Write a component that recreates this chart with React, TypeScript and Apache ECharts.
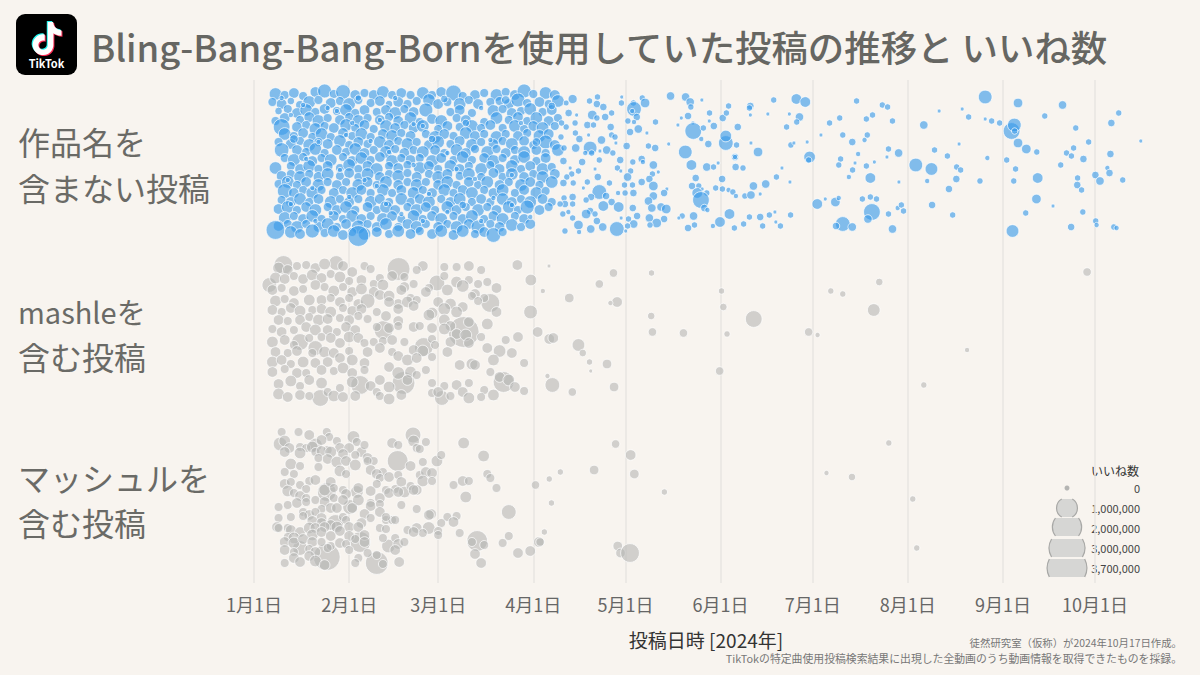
import React, { useEffect, useRef } from "react";
import * as echarts from "echarts";

const TITLE = "Bling-Bang-Bang-Bornを使用していた投稿の推移と いいね数";
const ROW_LABELS = [["作品名を", "含まない投稿"], ["mashleを", "含む投稿"], ["マッシュルを", "含む投稿"]];
const MONTH_TICKS = [0, 31, 60, 91, 121, 152, 182, 213, 244, 274];
const MONTH_LABELS = ["1月1日", "2月1日", "3月1日", "4月1日", "5月1日", "6月1日", "7月1日", "8月1日", "9月1日", "10月1日"];
const LEGEND_LIKES = [0, 1000, 2000, 3000, 3700];
const LEGEND_LABELS = ["0", "1,000,000", "2,000,000", "3,000,000", "3,700,000"];

// flat triples: day of year, swarm position, likes (thousands)
const blueDense = [
7,14,300,10,15,130,13,13,200,16,16,130,20,12,200,23,11,380,26,14,130,29,12,430,33,15,200,36,13,130,39,15,200,42,12,300,45,15,130,48,13,200,51,15,130,55,13,300,58,15,130,61,12,200,65,13,500,68,16,130,72,15,200,75,13,130,79,15,300,82,12,130,85,15,200,88,11,380,91,14,130,95,13,300,98,15,200,
6,22,130,9,24,200,12,21,79,15,25,130,18,22,300,21,20,130,25,23,200,28,21,130,31,24,300,34,20,130,38,23,130,41,21,200,44,24,79,47,22,200,50,24,130,53,21,130,57,20,300,60,24,200,63,22,130,67,24,300,70,20,130,73,24,200,77,22,130,80,21,130,83,24,200,86,20,380,89,23,130,93,22,200,96,24,130,99,21,300,
8,31,79,11,29,130,14,33,200,17,30,300,20,32,130,23,29,200,27,31,130,30,30,300,33,33,130,36,30,200,40,32,130,43,30,200,46,33,300,49,29,130,52,32,200,56,30,380,64,32,130,67,30,200,71,33,130,78,31,300,81,29,130,84,33,200,87,31,130,90,29,300,94,32,130,97,30,200,
7,41,130,10,38,200,15,40,130,18,37,200,21,41,300,24,38,130,28,40,200,31,37,130,34,41,300,37,38,130,41,40,200,44,37,130,47,41,200,51,38,300,54,42,130,58,39,200,61,41,300,66,38,130,69,40,200,75,42,130,79,38,300,83,40,130,86,37,200,89,41,130,92,38,300,96,41,200,99,38,130,
9,47,571,14,47,200,17,45,130,20,49,300,23,46,130,26,48,200,30,45,300,33,48,130,36,45,200,39,49,130,43,46,300,46,48,200,49,45,130,52,48,200,55,46,300,60,49,130,63,46,200,67,47,130,71,46,300,74,48,130,77,45,200,81,48,130,85,46,300,88,49,130,91,46,200,94,48,300,98,46,130,
10,54,300,13,56,130,16,53,200,19,57,130,22,54,300,25,57,130,29,53,200,32,56,130,35,54,300,38,57,130,42,54,200,45,56,300,48,53,130,51,56,200,56,54,130,59,57,300,62,54,200,65,56,130,69,53,300,72,56,200,75,54,130,79,57,300,82,54,130,86,56,200,89,53,130,93,56,300,96,54,200,
8,62,130,12,64,200,15,61,130,18,65,300,21,62,130,24,64,200,28,61,300,31,65,130,34,62,200,37,64,130,41,62,300,44,65,200,47,61,130,50,64,300,53,62,130,57,65,200,60,62,300,64,64,130,67,61,200,71,65,300,74,62,130,78,64,200,81,61,130,84,64,300,88,61,200,91,65,130,95,62,380,98,65,200,
9,70,420,14,70,200,17,72,130,20,69,300,23,73,130,27,70,200,30,72,130,33,69,300,36,73,200,39,70,130,43,72,300,46,69,130,49,73,200,52,70,130,55,72,300,59,70,200,62,73,130,66,70,300,69,73,200,72,69,130,76,72,300,79,69,130,82,73,200,85,70,130,88,72,300,92,70,200,95,73,130,99,70,300,
10,78,130,13,80,300,16,77,130,19,81,200,22,78,130,25,80,300,29,77,130,32,81,200,35,78,300,38,80,130,41,77,200,45,81,300,48,78,130,51,80,200,54,78,130,58,81,300,61,78,200,65,80,130,68,77,300,71,80,130,75,78,200,78,81,300,81,78,130,85,80,200,88,77,300,92,81,130,95,78,200,
7,88,300,12,86,130,15,89,200,18,86,300,21,89,130,24,86,200,28,88,130,31,85,300,34,89,130,37,86,200,40,89,300,44,86,130,47,88,200,50,85,130,54,88,300,57,86,200,60,89,130,64,86,300,67,89,200,70,86,130,74,89,300,77,85,130,80,89,200,84,86,300,87,89,130,90,86,200,94,89,300,97,87,130,
9,96,200,12,94,130,15,97,300,18,94,130,21,97,200,24,94,300,28,96,130,31,93,200,34,97,130,37,94,300,41,97,200,44,94,130,47,96,300,50,93,130,53,97,200,57,94,130,60,97,300,63,94,200,67,96,130,70,94,300,74,97,130,78,93,200,81,97,130,84,94,300,88,97,200,91,94,130,94,97,300,98,94,200,
8,104,130,11,102,300,14,105,130,17,102,200,21,105,300,24,102,130,27,105,200,30,102,130,34,105,300,37,102,200,40,105,130,43,102,300,47,105,200,50,102,130,53,105,300,56,102,130,60,105,200,63,102,300,66,105,130,70,102,200,73,105,130,76,102,300,80,105,200,83,102,130,87,105,300,90,102,200,93,105,130,97,102,300,
10,111,430,13,113,200,16,110,130,19,113,300,22,110,130,26,113,200,29,110,130,32,113,300,35,110,200,38,113,130,42,110,300,45,113,130,48,110,200,52,113,300,55,110,130,58,113,200,62,110,300,65,113,130,68,110,200,71,113,300,75,110,130,78,113,200,81,110,300,85,113,130,88,110,200,92,113,300,95,111,130,
9,120,130,12,122,200,15,119,300,18,122,130,21,119,200,25,122,300,28,119,130,31,122,200,34,119,130,38,122,300,41,119,200,44,122,130,48,119,300,51,122,130,54,119,200,57,122,300,61,119,130,64,122,200,67,119,300,71,122,130,74,119,200,77,122,130,81,119,300,84,122,200,87,119,130,90,122,300,94,119,200,97,122,130,
8,129,200,11,127,300,14,130,130,17,127,200,20,130,300,24,127,130,27,130,200,30,127,300,33,130,130,37,127,200,40,130,130,43,127,300,46,130,200,50,127,130,53,130,300,56,127,200,59,130,130,63,127,300,66,130,200,69,127,130,73,130,300,76,127,130,79,130,200,83,127,300,86,130,130,89,127,380,93,130,200,96,127,130,
10,138,300,13,136,130,16,139,200,19,136,300,22,139,130,26,136,200,29,139,130,32,136,300,35,139,200,38,136,130,42,139,300,45,136,200,48,139,130,52,136,300,55,139,130,58,136,200,61,139,300,65,136,130,68,139,200,71,136,300,75,139,130,78,136,200,81,139,300,85,136,130,88,139,200,
8,146,200,11,144,130,14,147,300,17,144,130,21,147,200,24,144,300,27,147,130,30,144,200,34,147,380,37,144,130,40,147,200,43,144,300,47,147,130,50,144,200,53,147,300,56,144,130,60,147,200,63,144,130,66,147,300,70,144,200,73,147,380,77,144,130,80,147,200,84,145,300,87,147,130,90,144,200,
7,150,733,12,152,300,15,154,200,19,151,380,23,153,130,26,151,300,29,155,200,32,152,130,36,154,300,34,156,914,40,152,200,44,154,130,47,151,300,51,154,200,54,151,130,58,154,200,61,151,300,65,155,200,68,151,300,72,154,130,75,152,200,78,155,430,81,152,130,
9,18,21,34,18,48,46,18,21,62,19,79,82,20,114,24,28,21,74,28,21,97,26,79,12,35,21,32,43,21,52,44,21,69,43,79,87,43,21,13,59,114,38,61,21,58,59,79,77,60,21,92,62,114,11,100,21,36,100,21,72,99,21,12,124,21,43,124,21,68,125,79,84,125,21,20,141,21,55,141,21,74,141,21,
16,25,21,27,31,21,41,40,21,55,46,21,30,55,21,21,62,21,44,72,21,63,73,21,17,79,21,52,85,21,28,90,21,66,89,21,84,95,21,40,106,21,19,108,21,57,114,21,31,117,21,78,118,21,48,134,21,25,133,21,63,132,21,90,137,21,
];
const blueSparse = [
103.8,19,135,101.7,23,35,109.3,21,48,111.9,17,48,111.7,24,79,113.8,27,79,119.8,17,0,119.7,23,48,123.6,23,48,126.5,18,48,127.4,23,155,123.8,29,429,123.2,31,21,102.5,33,79,105.1,35,0,110.2,35,155,111.7,38,48,114.4,37,79,116.5,33,48,124.7,37,79,121.8,41,48,123.8,42,21,130.8,42,48,125.2,49,114,122.5,52,79,128,53,0,116.2,47,79,108.6,45,79,110.6,45,48,104.6,43,48,101.7,47,48,100.2,43,48,104.7,53,48,109,55,0,116.5,55,48,117.6,57,48,106,59,79,100,57,48,113.2,60,114,117.9,63,0,121.4,66,79,109.5,68,364,104.8,68,114,110,73,48,107.9,73,21,114.9,70,114,116.9,73,48,112.7,71,0,101,68,48,119.3,80,79,112.5,80,48,106.9,82,79,100.8,81,79,123.4,82,48,126.3,79,79,126.7,82,21,130.1,85,114,128.5,66,48,130.7,68,79,135.1,64,0,111.1,89,0,103,88,0,105.7,91,48,118.4,88,48,119.5,91,0,122.7,91,48,131.7,92,0,129.8,94,48,112,97,79,103.5,94,48,101.9,97,48,121.7,97,114,128.8,99,79,126.3,102,79,108.6,102,48,100.8,103,79,104,103,48,115.8,103,48,107.3,108,0,120.7,105,48,123.3,105,48,130.1,106,155,134.5,109,0,133.6,113,79,112.5,112,429,120.9,113,48,123.6,113,79,118.6,113,21,114.7,116,79,109.8,117,79,103.8,117,79,130.1,116,114,116.5,122,79,108.2,120,48,128.5,121,114,101,118,48,101.3,124,79,99.7,124,48,103.8,124,48,113.8,126,200,118.8,127,200,129.6,128,114,132.6,127,114,134.3,129,155,123.4,128,79,109.5,131,79,111.1,134,48,108.2,134,155,102.4,132,21,100.6,134,48,119.6,138,0,124.8,136,79,122,139,48,128.8,138,114,133.6,139,79,103.8,138,48,111.7,141,79,123.7,144,114,131.2,143,155,129,145,48,105.7,145,155,113.6,147,114,121.7,146,48,109.7,149,114,118.2,149,429,101.3,151,48,105.9,152,21,121.1,151,0,
135.7,16,114,140.6,17,114,142.1,22,114,142.3,27,48,145.9,20,0,141.4,36,79,139.2,38,0,138.1,45,0,143,43,0,143.1,51,571,146.4,48,48,148.4,33,48,148.3,41,0,149.8,46,79,152.7,38,79,153.9,33,48,154.6,26,48,157.6,47,79,161.7,26,79,161.4,28,48,161.7,35,0,169.3,20,48,167.4,34,0,176.7,19,200,179.6,22,200,174.4,34,0,177.7,37,114,176.8,42,48,173.5,47,48,187.5,43,48,190.8,38,48,196.3,21,48,191.8,55,48,184.7,55,0,194.9,62,79,153.7,63,429,153.7,56,250,145.7,59,21,148,64,79,157.2,65,48,161.9,63,0,164.2,72,155,174.9,65,48,175.9,63,0,180.2,62,0,140.5,72,364,156.7,77,79,156.7,77,21,181,77,250,180.7,80,48,142.5,85,200,147.5,87,114,149.7,87,48,151.2,83,0,156.9,87,79,159.3,88,48,172,88,0,191.1,79,48,190.5,85,48,196.8,74,21,195.8,83,0,195,90,48,193.8,97,21,143.9,98,79,152.5,99,79,170.2,97,48,174.6,102,0,166.7,104,114,162.7,106,114,142.7,106,79,144.9,106,48,146,109,0,150.4,108,48,152.6,109,48,154.6,110,21,156,112,48,157,116,21,144.4,113,200,147.5,113,48,145.6,120,571,164.9,114,0,159.9,116,48,161.9,115,114,146.7,128,79,147.7,130,21,189.4,122,155,190.5,118,21,186.1,119,0,183.5,124,200,139.5,136,48,138.4,138,0,143.2,136,114,154.9,134,200,161.4,137,48,164.9,137,79,167.9,135,48,169.7,132,0,174.8,135,48,151.8,142,200,149.5,146,21,159.5,144,48,143.5,145,48,141.4,148,79,156.5,148,48,165.7,146,48,170,142,0,171.5,146,48,191.8,144,429,189.6,146,79,194.9,147,114,
204.7,25,48,206.4,27,48,201.5,35,48,199.5,39,48,208,41,48,199.8,55,48,198.9,60,21,206.7,69,48,210,73,114,206.2,77,0,202.1,82,0,199.5,86,48,200.8,98,200,210.1,102,0,198.2,119,48,200.8,117,48,202.8,119,48,201.3,132,571,200,139,114,206.7,134,48,209.7,128,21,210.9,125,48,211.6,131,48,208,149,114,215.6,85,364,218.2,45,114,220.7,89,305,219.3,101,21,221.7,70,48,223.2,31,0,225.9,76,48,228.9,87,48,230.2,90,48,228.8,99,79,226.4,109,79,220.9,125,79,227.6,135,48,229.7,64,0,230.7,29,0,232.8,37,48,236.5,101,48,238.9,78,21,238.2,39,0,238.2,17,364,240.3,41,48,242.9,43,48,246.8,51,571,247.7,45,364,247.8,51,48,248.9,23,155,248.9,63,155,251.6,69,155,255,72,48,245.2,80,48,248.1,89,48,247.5,101,48,255.3,98,200,254.9,119,155,251.4,133,48,260.3,126,0,247.1,151,305,257.6,36,48,263.4,25,114,267.7,48,48,271.9,62,48,267,68,48,264.7,73,48,266.3,76,48,270.2,79,79,262.8,85,48,268.3,98,48,268.2,105,79,269.6,110,48,270,132,48,266.2,147,79,274.2,141,48,274.5,145,21,274.1,95,79,275.6,101,114,278,88,21,278.7,93,79,279,74,79,279.3,43,79,281.7,33,48,283,100,48,288.9,61,0,280.1,147,48,281,148,21,
];
const grayMashle = [
9.6,185,733,47.1,189,1114,26.8,183,429,59.6,203,498,68.3,252,2100,77,223,733,81.3,302,914,48.7,303,1114,34.6,305,733,42.2,250,733,15,262,571,20,268,429,55.3,267,733,90.1,232,364,90.2,200,250,85.8,185,200,92.4,252,200,21.6,318,571,61.2,318,429,
5,205,429,8,188,250,11,190,200,14,186,130,17,185,130,20,188,200,23,184,250,29,186,200,32,192,200,36,186,130,38,189,130,41,198,130,45,196,200,49,197,130,55,186,200,53,190,130,62,187,130,66,187,130,70,186,200,74,190,130,
7,198,250,10,199,200,13,196,130,16,199,200,19,195,250,22,198,200,25,194,130,28,197,250,31,201,130,35,200,200,39,204,130,42,205,250,49,207,200,52,204,130,57,208,130,62,196,130,66,202,250,70,200,130,73,204,130,76,202,130,79,208,200,
6,210,200,9,208,130,13,211,200,16,209,130,20,205,200,23,207,130,26,211,250,29,207,130,32,212,200,35,209,250,39,212,200,41,215,200,48,210,200,51,218,130,56,212,200,63,210,250,68,206,300,72,214,200,75,218,130,
7,221,250,10,219,130,13,223,200,18,220,250,22,220,200,25,218,130,28,222,200,31,218,130,34,224,200,37,221,430,44,216,250,47,224,200,50,222,250,53,220,130,60,222,200,64,224,250,68,227,200,71,216,130,
6,230,200,9,232,130,12,228,200,15,231,250,19,230,130,22,229,200,25,232,250,29,228,130,32,231,200,35,229,200,40,232,130,44,222,200,47,229,200,52,226,200,58,233,250,62,229,300,66,232,250,79,232,200,73,221,130,
8,240,200,11,241,130,15,240,200,18,237,130,21,240,250,24,239,200,28,238,130,31,240,200,34,236,130,37,239,130,43,236,200,47,241,200,52,247,200,57,235,250,62,240,250,64,246,200,70,242,200,76,244,250,
6,249,130,9,252,200,13,250,130,17,247,200,20,250,250,24,250,200,27,252,130,30,247,200,33,250,200,40,247,130,44,248,200,47,246,130,54,246,130,58,248,200,62,249,250,66,254,200,69,255,250,
6,262,250,10,260,200,13,265,130,18,258,130,22,257,130,25,258,200,28,263,200,31,257,250,34,258,200,36,263,130,39,262,130,42,261,130,45,260,200,49,262,130,58,259,130,64,262,200,70,263,200,74,257,130,82,260,130,86,257,200,
7,272,200,11,273,130,14,271,200,19,273,130,23,272,250,26,273,200,31,271,130,37,272,200,41,268,200,45,272,130,52,270,200,55,271,250,59,265,130,63,272,200,76,268,200,80,271,300,84,273,200,
6,282,250,9,280,200,12,284,130,16,282,250,20,283,200,24,282,200,28,278,200,32,280,250,36,283,200,47,276,200,50,280,250,53,278,200,58,277,130,67,285,200,71,284,250,78,280,250,88,283,130,
6,292,200,10,289,130,14,293,200,17,293,130,22,290,200,26,291,130,29,288,250,32,293,200,36,290,130,44,287,200,47,293,300,51,292,250,56,290,130,72,285,200,77,292,130,80,297,200,
8,304,200,12,301,250,15,306,130,18,300,200,22,303,250,28,308,130,32,302,250,38,306,200,41,300,200,44,307,250,50,300,200,53,295,130,58,303,130,62,306,130,66,305,200,70,303,130,75,310,130,83,300,250,85,307,200,88,311,130,
8,314,250,11,317,200,15,315,200,18,316,130,24,312,130,26,316,250,29,317,200,33,316,200,40,312,130,41,316,130,44,319,250,48,315,200,58,313,130,60,312,200,64,316,130,68,312,200,70,318,250,74,317,130,78,315,250,
];
const extraMashle = [96.1,186,0,94.1,211,21,102.7,218,155,112.5,204,114,117.1,193,114,118.3,222,200,116.1,223,21,129.5,193,48,129.4,236,79,129.8,252,114,139.9,253,114,152.3,211,48,152.9,227,79,154.1,254,48,162.8,239,571,180.7,252,114,183.6,255,21,187.9,211,48,191.8,214,48,203.7,202,79,201.9,230,305,151.7,291,114,96.2,259,200,97.5,258,200,105.7,265,305,107.1,273,79,109.3,282,48,109.7,291,0,115,284,155,95.6,296,21,97.2,305,429,103.7,312,114,117.3,307,155,218.2,305,48,271.4,192,114,232.3,270,21];
const grayMasshuru = [
46.8,381,914,23.7,477,1571,40,483,1114,72.7,461,914,51.8,355,498,83,432,429,74.8,376,250,68.3,363,250,59.6,381,250,23.7,412,733,34.6,462,914,20,365,364,8.5,364,364,15,468,429,31.3,427,429,33.5,412,305,26.5,443,571,43.8,466,364,57.7,434,200,56.9,448,305,47.3,482,200,32.4,357,305,91.7,405,114,92.8,462,200,
9,352,130,14.5,352,130,18,355,200,23.7,352,130,24.5,357,130,27,361,130,33.5,362,130,10,361,250,11.5,368,200,15,367,130,17,368,130,19,367,250,22,360,200,24,370,130,28,368,200,31,368,200,35,372,200,36,365,130,45,363,200,47,365,130,52,361,250,53,368,130,56,362,130,61,375,130,
10,372,200,15,373,250,20,372,130,22,371,200,25,372,250,29,374,200,33,375,130,37,378,200,39,381,130,54,369,130,55,382,130,
12,384,250,15,386,130,21,378,130,24,379,200,27,382,250,30,381,200,33,385,250,37,381,130,42,392,130,51,386,200,54,395,130,56,392,200,58,393,200,
10,392,130,13,394,130,21,387,130,28,391,250,30,394,130,38,390,200,40,394,200,41,398,130,44,397,200,47,395,130,48,402,200,55,401,250,58,401,130,65,405,130,68,401,200,70,401,130,76,394,130,77,398,130,79,408,130,
10,404,200,12,402,130,15,405,130,18,401,130,17,409,130,20,400,200,23,410,250,25,402,200,26,408,130,29,410,130,30,414,200,34,408,200,38,411,200,40,404,130,43,410,130,46,409,130,49,412,250,51,406,130,53,410,200,69,417,250,
11,411,250,13,413,130,15,416,200,17,418,130,20,420,130,23,422,200,26,418,130,29,420,200,34,420,250,38,423,130,41,418,200,44,413,200,47,412,200,52,410,200,
8,427,130,11,425,130,14,423,200,17,422,130,22,429,130,25,428,200,27,428,200,32,428,200,38,426,200,41,424,130,48,425,130,53,429,130,
8,438,130,12,437,130,16,432,130,18,435,200,20,432,130,22,438,200,29,437,130,36,434,200,38,438,130,41,432,200,43,440,130,45,440,130,57,435,200,63,437,130,66,436,130,
7.5,447,200,11,448,130,16,436,130,19,441,200,22,443,200,25,445,200,30,440,130,35,443,200,43,437,130,46,440,130,50,450,130,53,448,200,55,453,130,61,443,130,65,442,200,
8,448,130,12,450,200,15,452,200,18,448,250,20,448,200,23,447,200,27,447,250,31,447,200,34,447,200,41,448,130,43,449,130,52,452,200,
11,457,130,13,458,250,19,455,250,22,452,200,25,456,200,28,451,200,31,456,200,33,459,130,36,455,200,42,458,130,46,458,130,60,451,130,60,455,130,67,453,130,
10,462,200,13,463,250,16,459,200,19,462,200,22,462,130,25,466,130,28,463,200,30,464,130,36,462,200,47,464,200,49,462,130,75,465,130,71,462,130,81,463,130,83,456,130,
10,470,200,13,472,130,18,469,130,20,472,200,24,468,130,31,470,130,37,473,130,46,470,200,72,474,200,86,473,200,90,471,200,
10,483,130,13,478,200,15,482,200,18,476,200,20,481,250,23,485,200,34,478,130,33,483,130,40,475,130,42,484,130,74,483,200,
];
const extraMasshuru = [117.8,364,114,122.7,375,200,123.9,394,155,110.8,390,155,99.8,392,48,96.2,399,48,96.9,423,48,94.6,452,48,93.2,462,114,118.5,466,155,119.4,473,155,122.5,473,733,133.7,412,48,186.5,393,21,194.8,397,79,206.8,363,48,214.6,419,48,215.9,468,48];

const triples = (flat: number[]) => {
  const out: number[][] = [];
  for (let i = 0; i + 2 < flat.length; i += 3) out.push([flat[i], flat[i + 1], flat[i + 2]]);
  return out;
};
const diameter = (k: number) => Math.sqrt(16 + 0.42 * k);
const markDiameter = (k: number) => Math.sqrt(9 + 0.42 * k) + 1;
const BG = "#f8f4ef";
const FONT = "'Noto Sans CJK JP', sans-serif";
const NOTE = "M12.525.02c1.31-.02 2.61-.01 3.91-.02.08 1.53.63 3.09 1.75 4.17 1.12 1.11 2.7 1.62 4.24 1.79v4.03c-1.44-.05-2.89-.35-4.2-.97-.57-.26-1.1-.59-1.62-.93-.01 2.92.01 5.84-.02 8.75-.08 1.4-.54 2.79-1.35 3.94-1.31 1.92-3.58 3.17-5.91 3.21-1.43.08-2.86-.31-4.08-1.03-2.02-1.19-3.44-3.37-3.65-5.71-.02-.5-.03-1-.01-1.49.18-1.9 1.12-3.72 2.58-4.96 1.66-1.44 3.98-2.13 6.15-1.72.02 1.48-.04 2.96-.04 4.44-.99-.32-2.15-.23-3.02.37-.63.41-1.11 1.04-1.36 1.75-.21.51-.15 1.07-.14 1.61.24 1.64 1.82 3.02 3.5 2.87 1.12-.01 2.19-.66 2.77-1.61.19-.33.4-.67.41-1.06.1-1.79.06-3.57.07-5.36.01-4.03-.01-8.05.02-12.07z";

function legendGraphics(): any[] {
  const els: any[] = [];
  const ys = [508, 527, 548, 568];
  LEGEND_LIKES.slice(1).forEach((k, i) => {
    const r = diameter(k) / 2;
    const h = 9;
    const w = Math.sqrt(Math.max(r * r - h * h, 0));
    const body = `M${-w} ${-h}L${w} ${-h}A${r} ${r} 0 0 1 ${w} ${h}L${-w} ${h}A${r} ${r} 0 0 1 ${-w} ${-h}Z`;
    const edge = `M${w} ${-h}A${r} ${r} 0 0 1 ${w} ${h}M${-w} ${h}A${r} ${r} 0 0 1 ${-w} ${-h}`;
    echarts.graphic.registerShape("legendBody" + i, echarts.graphic.extendPath(body as any, {}) as any);
    echarts.graphic.registerShape("legendEdge" + i, echarts.graphic.extendPath(edge as any, {}) as any);
    els.push({ type: "legendBody" + i, x: 1067, y: ys[i], silent: true, style: { fill: "#d6d6d4" } });
    els.push({ type: "legendEdge" + i, x: 1067, y: ys[i], silent: true, style: { fill: "none", stroke: "#a8a8a6", lineWidth: 1.2 } });
  });
  els.push({ type: "circle", shape: { cx: 1067, cy: 488, r: 2.5 }, silent: true, style: { fill: "#b4b4b2" } });
  const rowsY = [488, 508, 528, 548, 568];
  LEGEND_LABELS.forEach((t, i) => {
    els.push({ type: "text", x: 1140, y: rowsY[i], silent: true, style: { text: t, fill: "#444", font: `11px ${FONT}`, textAlign: "right", textVerticalAlign: "middle" } });
  });
  els.push({ type: "text", x: 1139, y: 470, silent: true, style: { text: "いいね数", fill: "#333", font: `12px ${FONT}`, textAlign: "right", textVerticalAlign: "middle" } });
  return els;
}

export default function App() {
  const ref = useRef<HTMLDivElement>(null);
  useEffect(() => {
    document.body.style.margin = "0";
    document.body.style.background = BG;
    const chart = echarts.init(ref.current!, undefined, { renderer: "svg" });
    echarts.graphic.registerShape("tiktokNote", echarts.graphic.extendPath(NOTE as any, {}) as any);
    const bubble = (name: string, data: number[][], color: string) => ({
      type: "scatter", name, data, silent: true, clip: false,
      symbolSize: (v: number[]) => markDiameter(v[2]),
      itemStyle: { color, borderColor: "#ffffff", borderWidth: 0.9 },
    });
    const rowTexts: any[] = [];
    const rowY = [[141, 187], [311, 356], [477, 522]];
    ROW_LABELS.forEach((pair, i) => pair.forEach((t, j) => rowTexts.push({
      type: "text", x: 18, y: rowY[i][j], silent: true,
      style: { text: t, fill: "#6a6a66", font: `${t.startsWith("mashle") ? 29 : 32}px ${FONT}`, textVerticalAlign: "middle" },
    })));
    chart.setOption({
      animation: false,
      backgroundColor: BG,
      grid: { left: 254, top: 80, width: 904, height: 503 },
      xAxis: {
        type: "value", min: 0, max: 294.5,
        name: "投稿日時 [2024年]", nameLocation: "middle", nameGap: 47,
        nameTextStyle: { fontFamily: FONT, fontSize: 19, color: "#333" },
        axisLine: { show: false },
        axisTick: { show: false, customValues: MONTH_TICKS },
        axisLabel: {
          customValues: MONTH_TICKS, margin: 12, fontFamily: FONT, fontSize: 18, color: "#666",
          formatter: (v: number) => MONTH_LABELS[MONTH_TICKS.indexOf(v)] ?? "",
        },
        splitLine: { show: true, lineStyle: { color: "#e8e6e2", width: 1.5 } },
      },
      yAxis: { type: "value", min: 0, max: 503, inverse: true, show: false, splitLine: { show: false } },
      series: [
        bubble("作品名を含まない投稿", triples(blueDense).concat(triples(blueSparse)), "rgba(58,154,232,0.78)"),
        bubble("mashleを含む投稿", triples(grayMashle).concat(triples(extraMashle)), "rgba(180,180,178,0.72)"),
        bubble("マッシュルを含む投稿", triples(grayMasshuru).concat(triples(extraMasshuru)), "rgba(180,180,178,0.72)"),
      ],
      graphic: [
        { type: "rect", shape: { x: 16, y: 14, width: 61, height: 61, r: 9 }, silent: true, style: { fill: "#000" } },
        { type: "tiktokNote", x: 29.5, y: 21, scaleX: 1.38, scaleY: 1.38, silent: true, style: { fill: "#25f4ee" } },
        { type: "tiktokNote", x: 31.5, y: 23, scaleX: 1.38, scaleY: 1.38, silent: true, style: { fill: "#fe2c55" } },
        { type: "tiktokNote", x: 30.5, y: 22, scaleX: 1.38, scaleY: 1.38, silent: true, style: { fill: "#fff" } },
        { type: "text", x: 46.5, y: 63, silent: true, style: { text: "TikTok", fill: "#fff", font: `bold 11px ${FONT}`, textAlign: "center", textVerticalAlign: "middle" } },
        { type: "text", x: 91, y: 46, silent: true, style: { text: TITLE, fill: "#666662", font: `500 36.4px ${FONT}`, textVerticalAlign: "middle" } },
        ...rowTexts,
        ...legendGraphics(),
        { type: "text", x: 1182, y: 642, silent: true, style: { text: "徒然研究室（仮称）が2024年10月17日作成。", fill: "#777", font: `10.4px ${FONT}`, textAlign: "right", textVerticalAlign: "middle" } },
        { type: "text", x: 1182, y: 658, silent: true, style: { text: "TikTokの特定曲使用投稿検索結果に出現した全動画のうち動画情報を取得できたものを採録。", fill: "#777", font: `10.85px ${FONT}`, textAlign: "right", textVerticalAlign: "middle" } },
      ],
    });
    return () => chart.dispose();
  }, []);
  return <div ref={ref} style={{ width: 1200, height: 675 }} />;
}
